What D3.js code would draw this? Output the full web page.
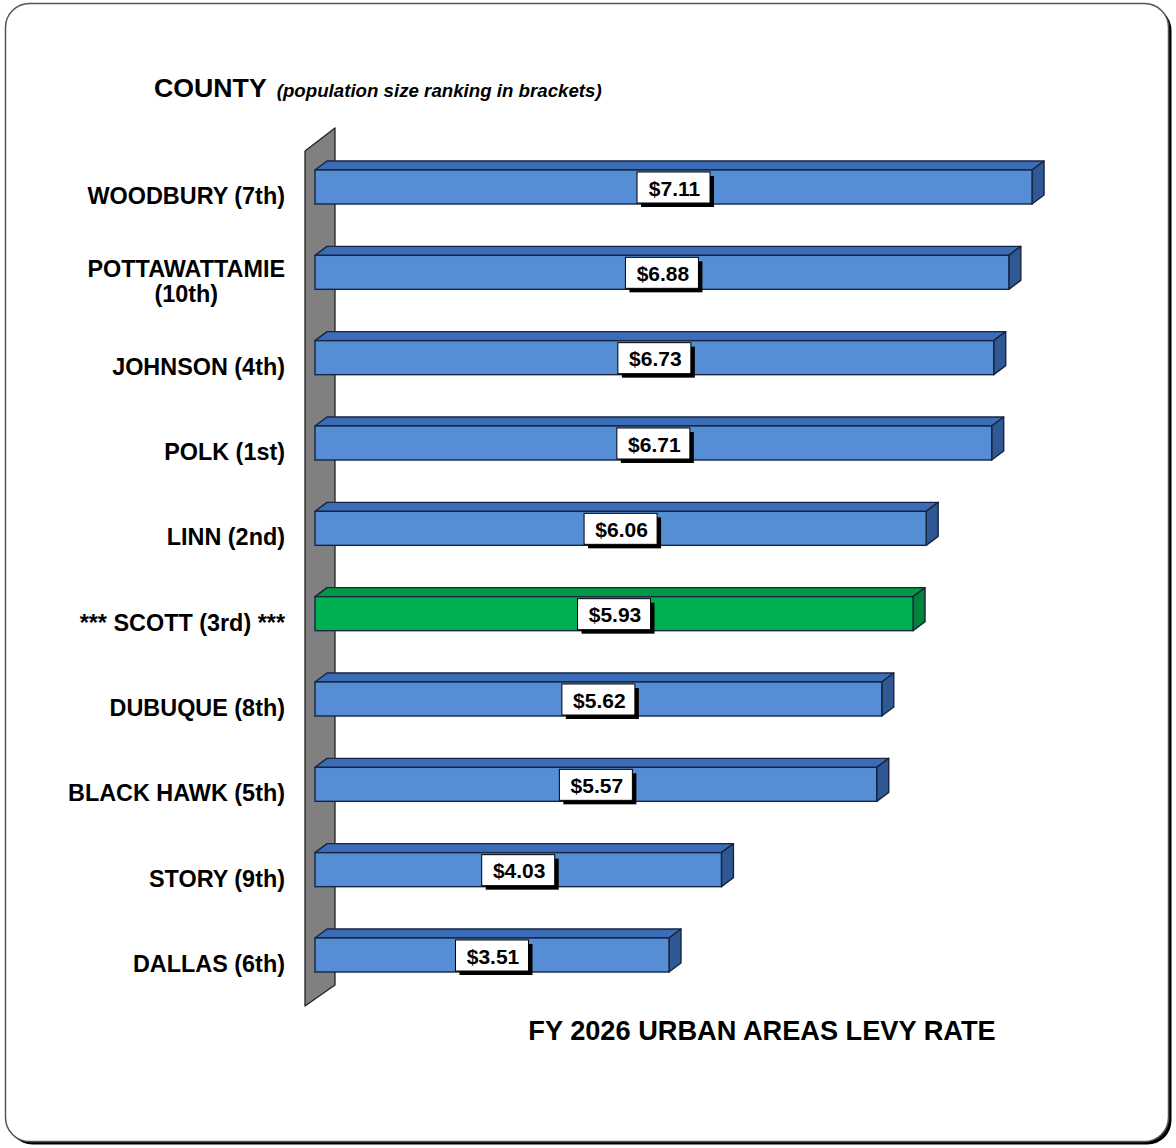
<!DOCTYPE html>
<html>
<head>
<meta charset="utf-8">
<script src="https://cdn.jsdelivr.net/npm/d3@7"></script>
<style>
  html, body { margin: 0; padding: 0; background: #fff; }
  svg { display: block; font-family: "Liberation Sans", Arial, sans-serif; }
</style>
</head>
<body>
<svg id="chart" width="1176" height="1148"></svg>
<script>
// FY 2026 urban areas levy rate by county
const counties = ["WOODBURY", "POTTAWATTAMIE", "JOHNSON", "POLK", "LINN", "SCOTT", "DUBUQUE", "BLACK HAWK", "STORY", "DALLAS"];
const countyLabels = [
  ["WOODBURY (7th)"],
  ["POTTAWATTAMIE", "(10th)"],
  ["JOHNSON (4th)"],
  ["POLK (1st)"],
  ["LINN (2nd)"],
  ["*** SCOTT (3rd) ***"],
  ["DUBUQUE (8th)"],
  ["BLACK HAWK (5th)"],
  ["STORY (9th)"],
  ["DALLAS (6th)"]
];
const levyRates = [7.11, 6.88, 6.73, 6.71, 6.06, 5.93, 5.62, 5.57, 4.03, 3.51];
const highlighted = ["SCOTT"];

const titleText = "COUNTY";
const subtitleText = "(population size ranking in brackets)";
const axisTitle = "FY 2026 URBAN AREAS LEVY RATE";

const svg = d3.select("#chart");

// frame with drop shadow
svg.append("rect").attr("x", 8.5).attr("y", 6.5).attr("width", 1163).attr("height", 1138)
  .attr("rx", 24).attr("fill", "#000");
svg.append("rect").attr("x", 5.5).attr("y", 3.5).attr("width", 1163).attr("height", 1138)
  .attr("rx", 24).attr("fill", "#fff").attr("stroke", "#555").attr("stroke-width", 1.5);

// scales
const x = d3.scaleLinear().domain([0, 8]).range([315, 315 + 8 * 100.85]);
const y = d3.scaleBand().domain(counties).range([170, 972]).paddingInner(0.6016).paddingOuter(0);
const bw = y.bandwidth();
const dx = 12, dy = 9; // bar depth offset

// 3D wall behind the bars
const wx0 = x(0) - 10, wx1 = x(0) + 20;
const wTop = y(counties[0]) - 19, wBot = y(counties[counties.length - 1]) + bw + 34;
svg.append("polygon")
  .attr("points", [[wx0, wTop], [wx1, wTop - 23], [wx1, wBot - 21], [wx0, wBot]].map(p => p.join(",")).join(" "))
  .attr("fill", "#808080").attr("stroke", "#222").attr("stroke-width", 1.3).attr("stroke-linejoin", "round");

const palette = {
  normal: { front: "#558ED5", top: "#3C6DB8", side: "#2F5895" },
  highlight: { front: "#00B050", top: "#009A44", side: "#00843A" }
};
const outline = "#17253F";
const labelSize = 23.4;

const bars = svg.append("g").selectAll("g.bar")
  .data(counties.map((c, i) => ({ county: c, value: levyRates[i], label: countyLabels[i] })))
  .join("g").attr("class", "bar");

bars.each(function (d) {
  const g = d3.select(this);
  const col = highlighted.includes(d.county) ? palette.highlight : palette.normal;
  const x0 = x(0), x1 = x(d.value), yt = y(d.county), yb = yt + bw;
  const pts = a => a.map(p => p.join(",")).join(" ");
  // top face
  g.append("polygon").attr("points", pts([[x0, yt], [x0 + dx, yt - dy], [x1 + dx, yt - dy], [x1, yt]]))
    .attr("fill", col.top).attr("stroke", outline).attr("stroke-width", 1.4).attr("stroke-linejoin", "round");
  // end face
  g.append("polygon").attr("points", pts([[x1, yt], [x1 + dx, yt - dy], [x1 + dx, yb - dy], [x1, yb]]))
    .attr("fill", col.side).attr("stroke", outline).attr("stroke-width", 1.4).attr("stroke-linejoin", "round");
  // front face
  g.append("rect").attr("x", x0).attr("y", yt).attr("width", x1 - x0).attr("height", bw)
    .attr("fill", col.front).attr("stroke", outline).attr("stroke-width", 1.4);

  // value label box
  const cx = (x0 + x1) / 2, bwid = 73, bh = 31, by = yt + 2;
  g.append("rect").attr("x", cx - bwid / 2 + 4).attr("y", by + 4).attr("width", bwid).attr("height", bh).attr("fill", "#000");
  g.append("rect").attr("x", cx - bwid / 2).attr("y", by).attr("width", bwid).attr("height", bh)
    .attr("fill", "#fff").attr("stroke", "#000").attr("stroke-width", 1);
  g.append("text").attr("x", cx + 1).attr("y", by + bh / 2 + 8)
    .attr("text-anchor", "middle").attr("font-size", 21).attr("font-weight", "bold").attr("fill", "#000")
    .text("$" + d.value.toFixed(2));

  // county label, right aligned against the wall
  const lines = d.label;
  const lineH = 25;
  const cy = yt + bw / 2 + 9;
  const t = g.append("text").attr("font-size", labelSize).attr("font-weight", "bold").attr("fill", "#000");
  if (lines.length === 1) {
    t.attr("x", 285).attr("y", cy + 8).attr("text-anchor", "end").text(lines[0]);
  } else {
    // multi-line label: lines centred on the widest line, which ends at the right margin
    const probe = g.append("text").attr("font-size", labelSize).attr("font-weight", "bold").text(lines[0]);
    const w = probe.node().getComputedTextLength();
    probe.remove();
    const mid = 285 - w / 2;
    const y0 = cy + 8 - (lines.length - 1) * lineH / 2;
    t.attr("text-anchor", "middle");
    lines.forEach((ln, k) => t.append("tspan").attr("x", mid).attr("y", y0 + k * lineH).text(ln));
  }
});

// titles
const title = svg.append("text").attr("x", 154).attr("y", 97).attr("fill", "#000");
title.append("tspan").attr("font-size", 26.7).attr("font-weight", "bold").text(titleText);
title.append("tspan").attr("dx", 10).attr("font-size", 18.7).attr("font-weight", "bold").attr("font-style", "italic").text(subtitleText);

svg.append("text").attr("x", 762).attr("y", 1040).attr("text-anchor", "middle")
  .attr("font-size", 27.2).attr("font-weight", "bold").attr("fill", "#000").text(axisTitle);
</script>
</body>
</html>
